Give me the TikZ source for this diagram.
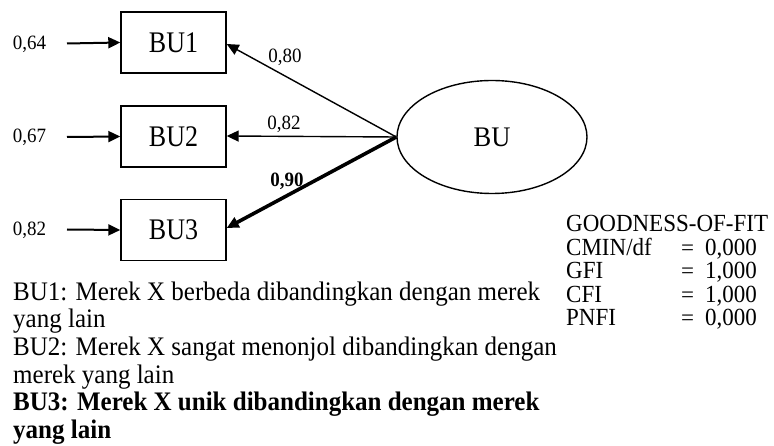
\documentclass[tikz,border=0pt]{standalone}
\usepackage{fontspec}
\setmainfont{Liberation Serif}
\usetikzlibrary{arrows.meta,shapes.geometric}
% slightly tall lettering
\newcommand{\tallbox}[1]{\scalebox{1}[1.15]{#1}}
\newcommand{\tall}[1]{\scalebox{1}[1.07]{#1}}
\begin{document}
\begin{tikzpicture}[x=1pt,y=-1pt,
  indicator/.style={draw,line width=1.4pt,minimum width=105pt,minimum height=61pt,inner sep=0pt,
    font=\fontsize{26}{28}\selectfont},
  latent/.style={draw,ellipse,line width=1.4pt,minimum width=190pt,minimum height=113pt,inner sep=0pt,
    font=\fontsize{26.5}{28}\selectfont},
  num/.style={font=\fontsize{19}{22}\selectfont,inner sep=0pt},
  errarrow/.style={line width=2pt,-{Triangle[length=12pt,width=11pt]}},
  loadarrow/.style={line width=1.4pt,-{Triangle[length=12pt,width=11pt]}},
  strongarrow/.style={line width=3.6pt,-{Triangle[length=12pt,width=11pt]}},
  legend/.style={font=\fontsize{25}{24.5}\selectfont,inner sep=0pt,anchor=base west},
  fit/.style={font=\fontsize{23}{26}\selectfont,inner sep=0pt,anchor=base west}]
\useasboundingbox (0,0) rectangle (774,446);

% observed indicators
\node[indicator] (bu1) at (173.5,42.5) {\tallbox{BU1}};
\node[indicator] (bu2) at (173.5,136.5) {\tallbox{BU2}};
\node[indicator] (bu3) at (173.5,230) {\tallbox{BU3}};

% latent construct
\node[latent] (bu) at (492,137) {\tall{BU}};

% error terms
\node[num,anchor=base] (e1) at (29.5,49.5) {\tall{0,64}};
\node[num,anchor=base] (e2) at (29.5,143) {\tall{0,67}};
\node[num,anchor=base] (e3) at (29.5,235.5) {\tall{0,82}};
\coordinate (s1) at (67,43.5);
\coordinate (s2) at (67,137);
\coordinate (s3) at (67,229.5);
\draw[errarrow] (s1) -- (bu1.west);
\draw[errarrow] (s2) -- (bu2.west);
\draw[errarrow] (s3) -- (bu3.west);

% factor loadings
\draw[loadarrow] (bu.west) -- ([yshift=-1.5pt]bu1.east);
\draw[loadarrow] (bu.west) -- ([yshift=0.5pt]bu2.east);
\draw[strongarrow] (bu.west) -- ([yshift=2pt]bu3.east);
\node[num,anchor=base] (l1) at (285,63) {\tall{0,80}};
\node[num,anchor=base] (l2) at (284,130) {\tall{0,82}};
\node[num,anchor=base] (l3) at (287,187) {\tall{\textbf{0,90}}};

% item wording
\node[legend] (t1) at (13,300.5) {\tall{BU1: Merek X berbeda dibandingkan dengan merek}};
\node[legend] (t2) at (13,328) {\tall{yang lain}};
\node[legend] (t3) at (13,355.5) {\tall{BU2: Merek X sangat menonjol dibandingkan dengan}};
\node[legend] (t4) at (13,383) {\tall{merek yang lain}};
\node[legend] (t5) at (13,410.5) {\tall{\textbf{BU3: Merek X unik dibandingkan dengan merek}}};
\node[legend] (t6) at (13,438) {\tall{\textbf{yang lain}}};

% goodness-of-fit summary
\node[fit] (g0) at (566,232) {\tall{GOODNESS-OF-FIT}};
\node[fit] (g1) at (566,255.5) {\tall{CMIN/df}};
\node[fit] (g2) at (566,279) {\tall{GFI}};
\node[fit] (g3) at (566,302.5) {\tall{CFI}};
\node[fit] (g4) at (566,326) {\tall{PNFI}};
\node[fit] (q1) at (681,255.5) {=};
\node[fit] (q2) at (681,279) {=};
\node[fit] (q3) at (681,302.5) {=};
\node[fit] (q4) at (681,326) {=};
\node[fit] (v1) at (705,255.5) {\tall{0,000}};
\node[fit] (v2) at (705,279) {\tall{1,000}};
\node[fit] (v3) at (705,302.5) {\tall{1,000}};
\node[fit] (v4) at (705,326) {\tall{0,000}};
\end{tikzpicture}
\end{document}
